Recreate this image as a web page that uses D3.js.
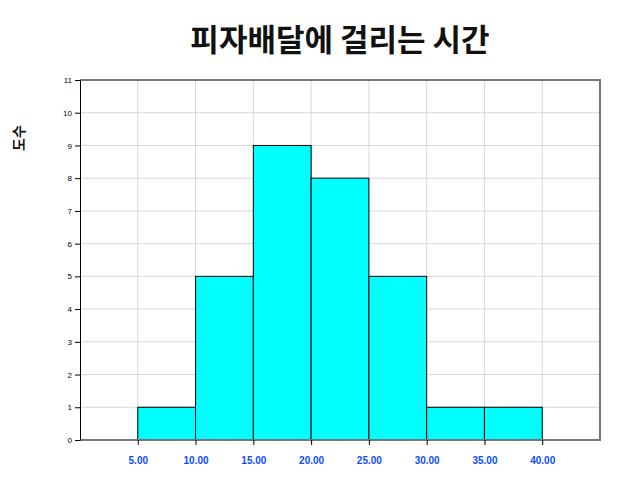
<!DOCTYPE html>
<html><head><meta charset="utf-8">
<script src="https://cdn.jsdelivr.net/npm/d3@7"></script>
<style>body{margin:0;background:#fff;} svg{display:block;}</style>
</head><body>
<script>
const binStarts = [5, 10, 15, 20, 25, 30, 35];
const binEnds = [10, 15, 20, 25, 30, 35, 40];
const counts = [1, 5, 9, 8, 5, 1, 1];
const xTicks = [5, 10, 15, 20, 25, 30, 35, 40];
const yTicks = [0, 1, 2, 3, 4, 5, 6, 7, 8, 9, 10, 11];
const title = "피자배달에 걸리는 시간";
const yTitle = "도수";

const W = 640, H = 500;
const m = {left: 80, right: 40, top: 80, bottom: 60};
const svg = d3.select("body").append("svg").attr("width", W).attr("height", H);
const x = d3.scaleLinear().domain([0, 45]).range([m.left, W - m.right]);
const y = d3.scaleLinear().domain([0, 11]).range([H - m.bottom, m.top]);

// grid
svg.append("g").selectAll("line").data(yTicks.slice(1)).join("line")
  .attr("x1", m.left).attr("x2", W - m.right)
  .attr("y1", d => y(d)).attr("y2", d => y(d))
  .attr("stroke", "#d9d9d9").attr("stroke-width", 1);
svg.append("g").selectAll("line").data(xTicks).join("line")
  .attr("x1", d => x(d)).attr("x2", d => x(d))
  .attr("y1", m.top).attr("y2", H - m.bottom)
  .attr("stroke", "#d9d9d9").attr("stroke-width", 1);

// bars
const data = counts.map((c, i) => ({x0: binStarts[i], x1: binEnds[i], c}));
svg.append("g").selectAll("rect").data(data).join("rect")
  .attr("x", d => x(d.x0)).attr("width", d => x(d.x1) - x(d.x0))
  .attr("y", d => y(d.c)).attr("height", d => y(0) - y(d.c))
  .attr("fill", "#00ffff").attr("stroke", "#000").attr("stroke-width", 1);

// frame
svg.append("line").attr("x1", m.left).attr("x2", W - m.right).attr("y1", y(11)).attr("y2", y(11))
  .attr("stroke", "#777").attr("stroke-width", 2);
svg.append("line").attr("x1", W - m.right).attr("x2", W - m.right).attr("y1", y(11) - 1).attr("y2", y(0) + 1)
  .attr("stroke", "#777").attr("stroke-width", 2);
svg.append("line").attr("x1", m.left).attr("x2", W - m.right).attr("y1", y(0)).attr("y2", y(0))
  .attr("stroke", "#777").attr("stroke-width", 2);

// y axis
const ya = svg.append("g").attr("transform", `translate(${m.left},0)`)
  .call(d3.axisLeft(y).tickValues(yTicks).tickSize(5).tickSizeOuter(0).tickFormat(d3.format("d")));
ya.select(".domain").attr("stroke", "#000");
ya.selectAll("text").attr("font-family", "Liberation Sans, Arial, sans-serif").attr("font-size", 8).attr("fill", "#000").attr("x", -8);

// x axis
const xa = svg.append("g").attr("transform", `translate(0,${y(0)})`)
  .call(d3.axisBottom(x).tickValues(xTicks).tickSize(5).tickSizeOuter(0).tickFormat(d3.format(".2f")));
xa.select(".domain").remove();
xa.selectAll("text").attr("font-family", "Liberation Sans, Arial, sans-serif").attr("font-size", 10)
  .attr("font-weight", "bold").attr("fill", "#0a4cff").attr("dy", "1.6em");

// titles
svg.append("text").attr("x", (m.left + W - m.right) / 2).attr("y", 51).attr("text-anchor", "middle")
  .attr("font-family", "Noto Sans CJK KR, sans-serif").attr("font-weight", "bold").attr("font-size", 31)
  .attr("fill", "#111").text(title);
svg.append("text").attr("transform", `translate(24,138) rotate(-90)`).attr("text-anchor", "middle")
  .attr("font-family", "Noto Sans CJK KR, sans-serif").attr("font-weight", "bold").attr("font-size", 14)
  .attr("fill", "#111").text(yTitle);
</script>
</body></html>
